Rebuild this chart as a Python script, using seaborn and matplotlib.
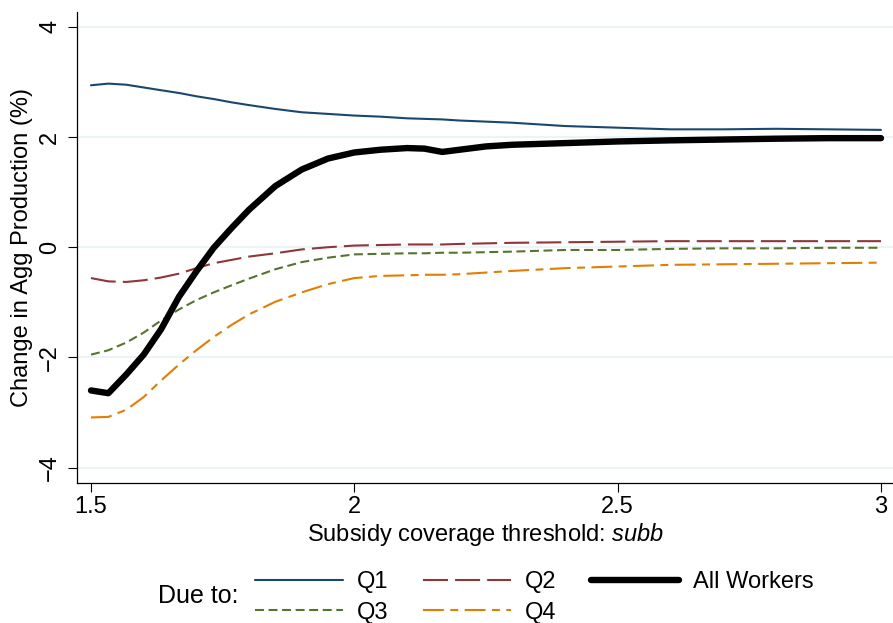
import numpy as np
import pandas as pd
import matplotlib
matplotlib.use("Agg")
import matplotlib.pyplot as plt
import seaborn as sns

# ---------------- data ----------------
subb = [1.5, 1.533, 1.567, 1.6, 1.633, 1.667, 1.7, 1.733, 1.767, 1.8, 1.85, 1.9,
        1.95, 2.0, 2.05, 2.1, 2.133, 2.167, 2.2, 2.25, 2.3, 2.4, 2.5, 2.6, 2.7,
        2.8, 2.9, 3.0]
q1 = [2.94, 2.97, 2.95, 2.90, 2.85, 2.80, 2.74, 2.69, 2.63, 2.58, 2.51, 2.45,
      2.42, 2.39, 2.37, 2.34, 2.33, 2.32, 2.30, 2.28, 2.26, 2.20, 2.17, 2.14,
      2.14, 2.15, 2.14, 2.13]
q2 = [-0.56, -0.62, -0.63, -0.60, -0.55, -0.48, -0.38, -0.29, -0.23, -0.17,
      -0.11, -0.04, 0.00, 0.03, 0.04, 0.05, 0.05, 0.05, 0.06, 0.07, 0.08, 0.09,
      0.10, 0.11, 0.11, 0.11, 0.11, 0.11]
q3 = [-1.95, -1.87, -1.73, -1.55, -1.33, -1.13, -0.96, -0.82, -0.69, -0.57,
      -0.40, -0.27, -0.19, -0.13, -0.12, -0.11, -0.11, -0.10, -0.10, -0.09,
      -0.08, -0.05, -0.05, -0.03, -0.02, -0.02, -0.01, -0.01]
q4 = [-3.09, -3.08, -2.95, -2.72, -2.42, -2.13, -1.87, -1.63, -1.41, -1.22,
      -0.99, -0.82, -0.67, -0.56, -0.52, -0.51, -0.50, -0.50, -0.49, -0.46,
      -0.43, -0.38, -0.35, -0.32, -0.31, -0.30, -0.29, -0.28]
all_workers = [-2.60, -2.65, -2.31, -1.95, -1.49, -0.90, -0.44, -0.01, 0.35,
               0.68, 1.11, 1.41, 1.61, 1.72, 1.77, 1.80, 1.79, 1.73, 1.77, 1.83,
               1.86, 1.89, 1.92, 1.94, 1.955, 1.97, 1.98, 1.98]

series_names = ["Q1", "Q2", "Q3", "Q4", "All Workers"]
x_ticks = [1.5, 2.0, 2.5, 3.0]
x_tick_labels = ["1.5", "2", "2.5", "3"]
y_ticks = [-4, -2, 0, 2, 4]
y_tick_labels = ["\u22124", "\u22122", "0", "2", "4"]
x_label = "Subsidy coverage threshold: $\\mathit{subb}$"
y_label = "Change in Agg Production (%)"
legend_title = "Due to:"

df = pd.DataFrame({"subb": subb, "Q1": q1, "Q2": q2, "Q3": q3, "Q4": q4,
                   "All Workers": all_workers})
long_df = df.melt(id_vars="subb", var_name="series", value_name="change")

# ---------------- style ----------------
sns.set_theme(style="white")
plt.rcParams["font.family"] = ["Liberation Sans", "DejaVu Sans"]
plt.rcParams["mathtext.fontset"] = "custom"
plt.rcParams["mathtext.rm"] = "Liberation Sans"
plt.rcParams["mathtext.it"] = "Liberation Sans:italic"
plt.rcParams["axes.unicode_minus"] = True
plt.rcParams["text.color"] = "black"
plt.rcParams["axes.labelcolor"] = "black"

colors = {"Q1": "#1a476f", "Q2": "#90353b", "Q3": "#55752f", "Q4": "#e37e00",
          "All Workers": "#000000"}
widths = {"Q1": 1.5, "Q2": 1.5, "Q3": 1.5, "Q4": 1.5, "All Workers": 4.6}
styles = {"Q1": "-", "Q2": (0, (12, 3.4)), "Q3": (0, (4.3, 2.2)),
          "Q4": (0, (10, 3.1, 3.8, 3.1)), "All Workers": "-"}

fig = plt.figure(figsize=(8.93, 6.23), dpi=100)
W, H = 893, 623
ax = fig.add_axes([77 / W, 1 - 483 / H, (W - 77) / W, (483 - 12) / H])

for name in series_names:
    sub = long_df[long_df["series"] == name]
    sns.lineplot(data=sub, x="subb", y="change", ax=ax, color=colors[name],
                 linewidth=widths[name], linestyle=styles[name],
                 estimator=None, errorbar=None, legend=False,
                 solid_capstyle="round", solid_joinstyle="round", label=name)

ax.set_xlim(1.4734, 3.0228)
ax.set_ylim(-4.28, 4.27)
ax.set_xticks(x_ticks)
ax.set_xticklabels(x_tick_labels)
ax.set_yticks(y_ticks)
ax.set_yticklabels(y_tick_labels)

ax.grid(axis="y", color="#eaf2f3", linewidth=1.2)
ax.grid(axis="x", visible=False)
ax.set_axisbelow(True)
for s in ["top", "right"]:
    ax.spines[s].set_visible(False)
for s in ["left", "bottom"]:
    ax.spines[s].set_color("black")
    ax.spines[s].set_linewidth(0.9)

ax.tick_params(axis="both", which="major", direction="out", length=6.5,
               width=0.8, color="black", labelsize=17, labelcolor="black",
               bottom=True, left=True)
ax.tick_params(axis="x", pad=3)
ax.tick_params(axis="y", pad=5, labelrotation=90)
for lbl in ax.get_yticklabels():
    lbl.set_va("center")

ax.set_xlabel(x_label, fontsize=17, color="black")
ax.set_ylabel(y_label, fontsize=17, color="black")
ax.xaxis.set_label_coords(0.501, (483 - 521) / 471)
ax.yaxis.set_label_coords((33 - 77) / 816, 0.5)

# legend: columns filled top-to-bottom -> Q1,Q3 | Q2,Q4 | All Workers
handles = {ln.get_label(): ln for ln in ax.get_lines()}
order = ["Q1", "Q3", "Q2", "Q4", "All Workers"]
leg = fig.legend([handles[n] for n in order], order, ncol=3, loc="center left",
                 bbox_to_anchor=(255 / W, 1 - 597.5 / H), frameon=False,
                 fontsize=17, handlelength=3.73, handletextpad=0.59,
                 columnspacing=1.46, borderpad=0, borderaxespad=0,
                 labelspacing=0.36)
for t in leg.get_texts():
    t.set_color("black")
fig.text(198 / W, 1 - 596 / H, legend_title, fontsize=18, ha="center",
         va="center", color="black")

fig.savefig("out.png", dpi=100)
